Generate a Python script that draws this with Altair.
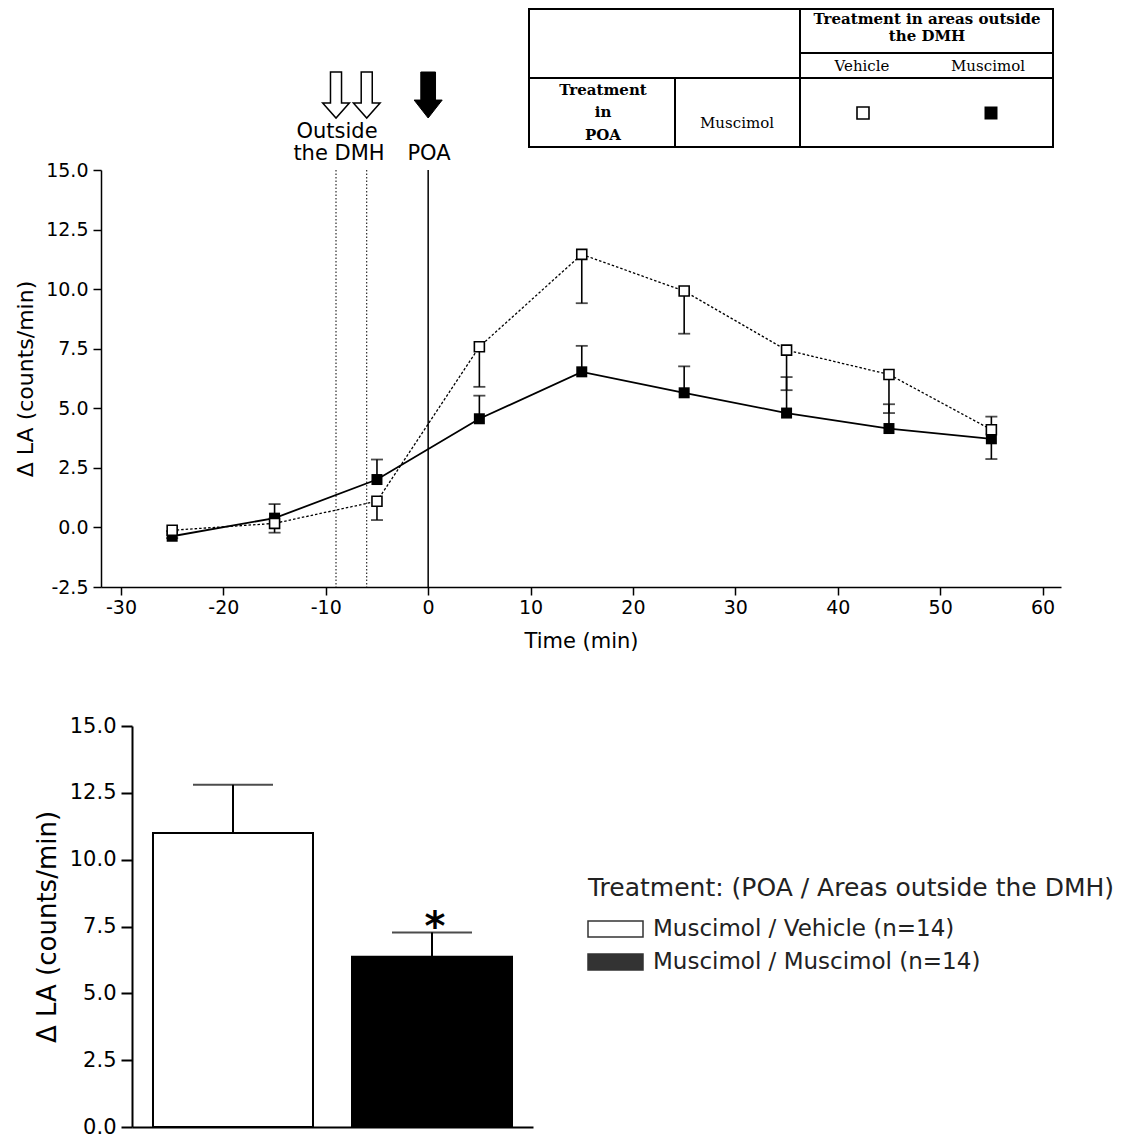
import altair as alt
import pandas as pd

# ---------------- data ----------------
time_min = [-25, -15, -5, 5, 15, 25, 35, 45, 55]
vehicle_mean = [-0.12, 0.17, 1.10, 7.58, 11.46, 9.92, 7.44, 6.42, 4.10]
vehicle_err_end = [-0.15, -0.22, 0.31, 5.90, 9.41, 8.13, 5.76, 4.80, 4.65]
muscimol_mean = [-0.37, 0.39, 2.01, 4.56, 6.53, 5.65, 4.80, 4.15, 3.72]
muscimol_err_end = [-0.45, 0.98, 2.85, 5.53, 7.62, 6.76, 6.31, 5.17, 2.87]

outside_dmh_injection = [-9, -6]
poa_injection = [0]

x_tick_values = [-30, -20, -10, 0, 10, 20, 30, 40, 50, 60]
y_tick_values = [-2.5, 0.0, 2.5, 5.0, 7.5, 10.0, 12.5, 15.0]

bar_groups = ["Muscimol / Vehicle (n=14)", "Muscimol / Muscimol (n=14)"]
bar_mean = [11.0, 6.37]
bar_err_top = [12.8, 7.28]
bar_fill = ["#ffffff", "#000000"]
legend_swatch_fill = ["#ffffff", "#333333"]
bar_y_ticks = [0.0, 2.5, 5.0, 7.5, 10.0, 12.5, 15.0]

legend_title = "Treatment: (POA / Areas outside the DMH)"
y_title = "\u0394 LA (counts/min)"

SANS = "DejaVu Sans"
SERIF = "DejaVu Serif"

W1, H1 = 960, 417
W2, H2 = 401, 401

NEG_FMT = "datum.value < 0 ? '-' + format(-datum.value, '{f}') : format(datum.value, '{f}')"

# ---------------- top chart ----------------
veh = pd.DataFrame({"time": time_min, "val": vehicle_mean, "end": vehicle_err_end})
mus = pd.DataFrame({"time": time_min, "val": muscimol_mean, "end": muscimol_err_end})

x_scale = alt.Scale(domain=[-31.95, 61.8], nice=False, zero=False)
y_scale = alt.Scale(domain=[-2.5, 15], nice=False, zero=False)

common_axis = dict(
    domainColor="black", tickColor="black", labelColor="black", titleColor="black",
    domainWidth=1.5, tickWidth=1.5, grid=False, labelFont=SANS, titleFont=SANS,
    titleFontWeight="normal", labelFlush=False, labelOverlap=False,
)

x_axis = alt.Axis(title="Time (min)", values=x_tick_values, labelExpr=NEG_FMT.format(f="d"),
                  labelFontSize=19, titleFontSize=21, tickSize=8, labelPadding=3,
                  titlePadding=13, **common_axis)
y_axis = alt.Axis(title=y_title, values=y_tick_values, labelExpr=NEG_FMT.format(f=".1f"),
                  labelFontSize=19, titleFontSize=22, tickSize=8, labelPadding=5,
                  titlePadding=8, **common_axis)


def X(field):
    return alt.X(f"{field}:Q", scale=x_scale, axis=x_axis)


def Y(field):
    return alt.Y(f"{field}:Q", scale=y_scale, axis=y_axis)


one = pd.DataFrame({"k": [0]})


def txt(s, x, y, size, font=SANS, weight="normal", align="center", color="black"):
    return alt.Chart(pd.DataFrame({"t": [s]})).mark_text(
        font=font, fontSize=size, fontWeight=weight, align=align, baseline="middle", color=color
    ).encode(x=alt.value(x), y=alt.value(y), text="t:N")


def hrule(x1, x2, y, w=2):
    return alt.Chart(one).mark_rule(color="black", strokeWidth=w).encode(
        x=alt.value(x1), x2=alt.value(x2), y=alt.value(y))


def vrule(x, y1, y2, w=2):
    return alt.Chart(one).mark_rule(color="black", strokeWidth=w).encode(
        x=alt.value(x), y=alt.value(y1), y2=alt.value(y2))


dotted_lines = alt.Chart(pd.DataFrame({"time": outside_dmh_injection})).mark_rule(
    color="black", strokeWidth=1, strokeDash=[1.5, 2]
).encode(x=X("time"), y=alt.value(0), y2=alt.value(H1))

poa_line = alt.Chart(pd.DataFrame({"time": poa_injection})).mark_rule(
    color="black", strokeWidth=1.5
).encode(x=X("time"), y=alt.value(0), y2=alt.value(H1))

mus_err = alt.Chart(mus).mark_rule(color="black", strokeWidth=1.6).encode(
    x=X("time"), y=Y("val"), y2=alt.Y2("end"))
mus_cap = alt.Chart(mus).mark_tick(color="black", orient="horizontal", size=12, thickness=1.8).encode(
    x=X("time"), y=Y("end"))
veh_err = alt.Chart(veh).mark_rule(color="black", strokeWidth=1.6).encode(
    x=X("time"), y=Y("val"), y2=alt.Y2("end"))
veh_cap = alt.Chart(veh).mark_tick(color="black", orient="horizontal", size=12, thickness=1.8).encode(
    x=X("time"), y=Y("end"))

mus_line = alt.Chart(mus).mark_line(color="black", strokeWidth=1.8).encode(x=X("time"), y=Y("val"))
veh_line = alt.Chart(veh).mark_line(color="black", strokeWidth=1.3, strokeDash=[2.5, 2]).encode(
    x=X("time"), y=Y("val"))

mus_pts = alt.Chart(mus).mark_square(size=121, color="black", opacity=1).encode(x=X("time"), y=Y("val"))
veh_pts = alt.Chart(veh).mark_square(size=100, fill="white", stroke="black", strokeWidth=1.6,
                                     opacity=1).encode(x=X("time"), y=Y("val"))

OPEN_ARROW = "M -0.24 -1 L 0.24 -1 L 0.24 0.35 L 0.58 0.35 L 0 1 L -0.58 0.35 L -0.24 0.35 Z"
FILLED_ARROW = "M -0.32 -1 L 0.32 -1 L 0.32 0.22 L 0.61 0.22 L 0 1 L -0.61 0.22 L -0.32 0.22 Z"

open_arrows = alt.Chart(pd.DataFrame({"time": outside_dmh_injection})).mark_point(
    shape=OPEN_ARROW, size=2116, filled=True, fill="white", stroke="black", strokeWidth=1.5, opacity=1
).encode(x=X("time"), y=alt.value(-75))
filled_arrow = alt.Chart(pd.DataFrame({"time": poa_injection})).mark_point(
    shape=FILLED_ARROW, size=2116, filled=True, fill="black", stroke="black", strokeWidth=1, opacity=1
).encode(x=X("time"), y=alt.value(-75))

annot = [
    txt("Outside", 236, -38, 21),
    txt("the DMH", 238, -16, 21),
    txt("POA", 328, -16, 21),
]

# legend table (top right)
table_border = alt.Chart(one).mark_rect(fill="white", fillOpacity=0, stroke="black", strokeWidth=2).encode(
    x=alt.value(428), x2=alt.value(952), y=alt.value(-161), y2=alt.value(-23))
table_lines = [
    vrule(699, -161, -23),
    vrule(574, -92, -23),
    hrule(699, 952, -117),
    hrule(428, 952, -92),
]
table_text = [
    txt("Treatment in areas outside", 826, -151, 15, font=SERIF, weight="bold"),
    txt("the DMH", 826, -134, 15, font=SERIF, weight="bold"),
    txt("Vehicle", 761, -104, 15, font=SERIF),
    txt("Muscimol", 887, -104, 15, font=SERIF),
    txt("Treatment", 502, -80, 15, font=SERIF, weight="bold"),
    txt("in", 502, -58, 15, font=SERIF, weight="bold"),
    txt("POA", 502, -35, 15, font=SERIF, weight="bold"),
    txt("Muscimol", 636, -47, 15, font=SERIF),
]
table_open_sq = alt.Chart(one).mark_square(size=144, fill="white", stroke="black", strokeWidth=1.6,
                                           opacity=1).encode(x=alt.value(762), y=alt.value(-57))
table_filled_sq = alt.Chart(one).mark_square(size=169, color="black", opacity=1).encode(
    x=alt.value(890), y=alt.value(-57))

top = alt.layer(
    dotted_lines, poa_line, mus_err, mus_cap, veh_err, veh_cap, mus_line, veh_line,
    mus_pts, veh_pts, open_arrows, filled_arrow, *annot,
    table_border, *table_lines, *table_text, table_open_sq, table_filled_sq,
).properties(width=W1, height=H1)

# ---------------- bottom chart ----------------
bars_df = pd.DataFrame({"group": bar_groups, "mean": bar_mean, "err": bar_err_top, "fill": bar_fill})

xb = alt.X("group:N", sort=bar_groups,
           scale=alt.Scale(domain=bar_groups, paddingInner=0.196, paddingOuter=0.1055),
           axis=alt.Axis(title=None, labels=False, ticks=False, domainColor="black",
                         domainWidth=2, grid=False))
yb_axis = alt.Axis(title=y_title, values=bar_y_ticks, labelExpr=NEG_FMT.format(f=".1f"),
                   labelFontSize=21, titleFontSize=26, tickSize=11, labelPadding=5,
                   titlePadding=9, **{**common_axis, "domainWidth": 2, "tickWidth": 2})
yb_scale = alt.Scale(domain=[0, 15], nice=False)


def YB(field):
    return alt.Y(f"{field}:Q", scale=yb_scale, axis=yb_axis)


bars = alt.Chart(bars_df).mark_bar(stroke="black", strokeWidth=2).encode(
    x=xb, y=YB("mean"), fill=alt.Fill("fill:N", scale=None))
bar_err = alt.Chart(bars_df).mark_rule(color="black", strokeWidth=2).encode(
    x=xb, y=YB("mean"), y2=alt.Y2("err"))
bar_cap = alt.Chart(bars_df).mark_tick(color="black", orient="horizontal", size=80, thickness=2).encode(
    x=xb, y=YB("err"))
star = alt.Chart(bars_df).transform_filter(alt.datum.group == bar_groups[1]).mark_text(
    text="*", font=SANS, fontSize=40, fontWeight="bold", color="black", dy=-4, dx=3
).encode(x=xb, y=YB("err"))

legend_layers = [txt(legend_title, 456, 162, 25, align="left", color="#222222")]
for i, (lab, col) in enumerate(zip(bar_groups, legend_swatch_fill)):
    y0 = 195 + i * 33
    legend_layers.append(
        alt.Chart(one).mark_rect(fill=col, stroke="#333333", strokeWidth=1.5).encode(
            x=alt.value(456), x2=alt.value(511), y=alt.value(y0), y2=alt.value(y0 + 16)))
    legend_layers.append(txt(lab, 521, y0 + 8, 23, align="left", color="#222222"))

bottom = alt.layer(bars, bar_err, bar_cap, star, *legend_layers).properties(width=W2, height=H2)

spacer = alt.Chart(one).mark_point(opacity=0).encode(x=alt.value(0), y=alt.value(0)).properties(
    width=31, height=10)

chart = alt.vconcat(
    top,
    alt.hconcat(spacer, bottom, spacing=0, bounds="flush"),
    spacing=139,
    bounds="flush",
).properties(
    padding={"left": 6, "top": 0, "right": 0, "bottom": 0}
).configure_view(stroke=None).configure_axis(grid=False)

chart.save("out.html", embed_options={"renderer": "svg", "actions": False})
